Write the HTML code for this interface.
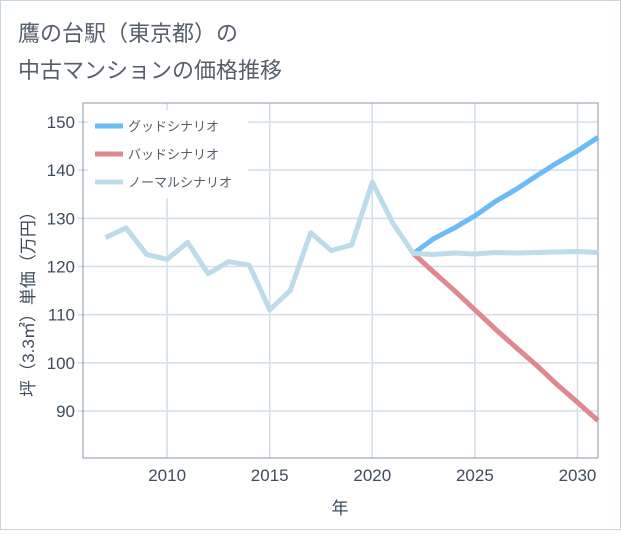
<!DOCTYPE html>
<html><head><meta charset="utf-8"><style>
body{margin:0;background:#fff;font-family:"Liberation Sans","Noto Sans CJK JP",sans-serif}
</style></head><body>
<svg id="c" width="621" height="530" xmlns="http://www.w3.org/2000/svg">
<rect x="0.5" y="0.5" width="620" height="529" fill="#fff" stroke="#c8d4e0"/>
<text x="18" y="41" font-size="22" fill="#555e6a" font-family="Liberation Sans, Noto Sans CJK JP, sans-serif">鷹の台駅（東京都）の</text>
<text x="18" y="78" font-size="22" fill="#555e6a" font-family="Liberation Sans, Noto Sans CJK JP, sans-serif">中古マンションの価格推移</text>
<g id="grid"></g>
<rect x="83" y="103" width="515" height="355" fill="none" stroke="#8a97a6" stroke-width="1"/>
<g id="series"></g>
<g id="axes"></g>
<text x="340" y="514" font-size="17" fill="#3e4c5e" text-anchor="middle" font-family="Liberation Sans, Noto Sans CJK JP, sans-serif">年</text>
<text transform="translate(34,300) rotate(-90)" font-size="17" fill="#3e4c5e" text-anchor="middle" font-family="Liberation Sans, Noto Sans CJK JP, sans-serif">坪（3.3㎡）単価（万円）</text>
<g id="legend">
<rect x="88" y="110" width="160" height="88" fill="#fff"/>
<line x1="95" y1="126" x2="123" y2="126" stroke="#6bbcf5" stroke-width="5"/>
<text x="128" y="131" font-size="13" fill="#555e6a" font-family="Liberation Sans, Noto Sans CJK JP, sans-serif">グッドシナリオ</text>
<line x1="95" y1="154" x2="123" y2="154" stroke="#e0888f" stroke-width="5"/>
<text x="128" y="159" font-size="13" fill="#555e6a" font-family="Liberation Sans, Noto Sans CJK JP, sans-serif">バッドシナリオ</text>
<line x1="95" y1="182" x2="123" y2="182" stroke="#bcdce9" stroke-width="5"/>
<text x="128" y="187" font-size="13" fill="#555e6a" font-family="Liberation Sans, Noto Sans CJK JP, sans-serif">ノーマルシナリオ</text>
</g>
</svg>
<script>
const normalYears=[2007,2008,2009,2010,2011,2012,2013,2014,2015,2016,2017,2018,2019,2020,2021,2022,2023,2024,2025,2026,2027,2028,2029,2030,2031];
const normalValues=[126,128,122.5,121.5,125,118.5,121,120.3,111,115,127,123.3,124.5,137.5,129,122.7,122.5,122.8,122.6,122.9,122.8,122.9,123,123.1,122.9];
const forecastYears=[2022,2023,2024,2025,2026,2027,2028,2029,2030,2031];
const goodValues=[122.7,125.8,128,130.5,133.5,136,138.8,141.5,144,146.8];
const badValues=[122.7,118.8,115,111,107,103.2,99.5,95.5,91.8,88];
const xTicks=[2010,2015,2020,2025,2030];
const yTicks=[90,100,110,120,130,140,150];
const NS="http://www.w3.org/2000/svg";
const X0=83,X1=598,Y0=103,Y1=458,XMIN=2005.9,XMAX=2031,YMIN=80.24,YMAX=153.94;
const xs=v=>X0+(v-XMIN)/(XMAX-XMIN)*(X1-X0);
const ys=v=>Y1-(v-YMIN)/(YMAX-YMIN)*(Y1-Y0);
function mk(t,a,p){const e=document.createElementNS(NS,t);for(const k in a)e.setAttribute(k,a[k]);p.appendChild(e);return e;}
const grid=document.getElementById('grid'),axes=document.getElementById('axes'),ser=document.getElementById('series');
xTicks.forEach(t=>{
 const l=mk('line',{x1:xs(t),x2:xs(t),y1:Y0,y2:Y1,stroke:'#d3dee9','stroke-width':1.5},grid);
 
 
 const tx=mk('text',{x:xs(t),y:Y1+23,'font-size':17,fill:'#3e4c5e','text-anchor':'middle'},axes);
 tx.textContent=t;
 
 
});
yTicks.forEach(t=>{
 const l=mk('line',{x1:X0-5,x2:X1,y1:ys(t),y2:ys(t),stroke:'#d3dee9','stroke-width':1.5},grid);
 
 
 const tx=mk('text',{x:X0-8,y:ys(t)+6,'font-size':17,fill:'#3e4c5e','text-anchor':'end'},axes);
 tx.textContent=t;
 
 
});
function line(xv,yv,color,name){
 const p=mk('polyline',{points:xv.map((x,i)=>xs(x)+','+ys(yv[i])).join(' '),fill:'none',stroke:color,'stroke-width':5,'stroke-linejoin':'round'},ser);
 
 
}
line(forecastYears,goodValues,'#6bbcf5','good-scenario-line');
line(forecastYears,badValues,'#e0888f','bad-scenario-line');
line(normalYears,normalValues,'#bcdce9','normal-scenario-line');
</script>
</body></html>
